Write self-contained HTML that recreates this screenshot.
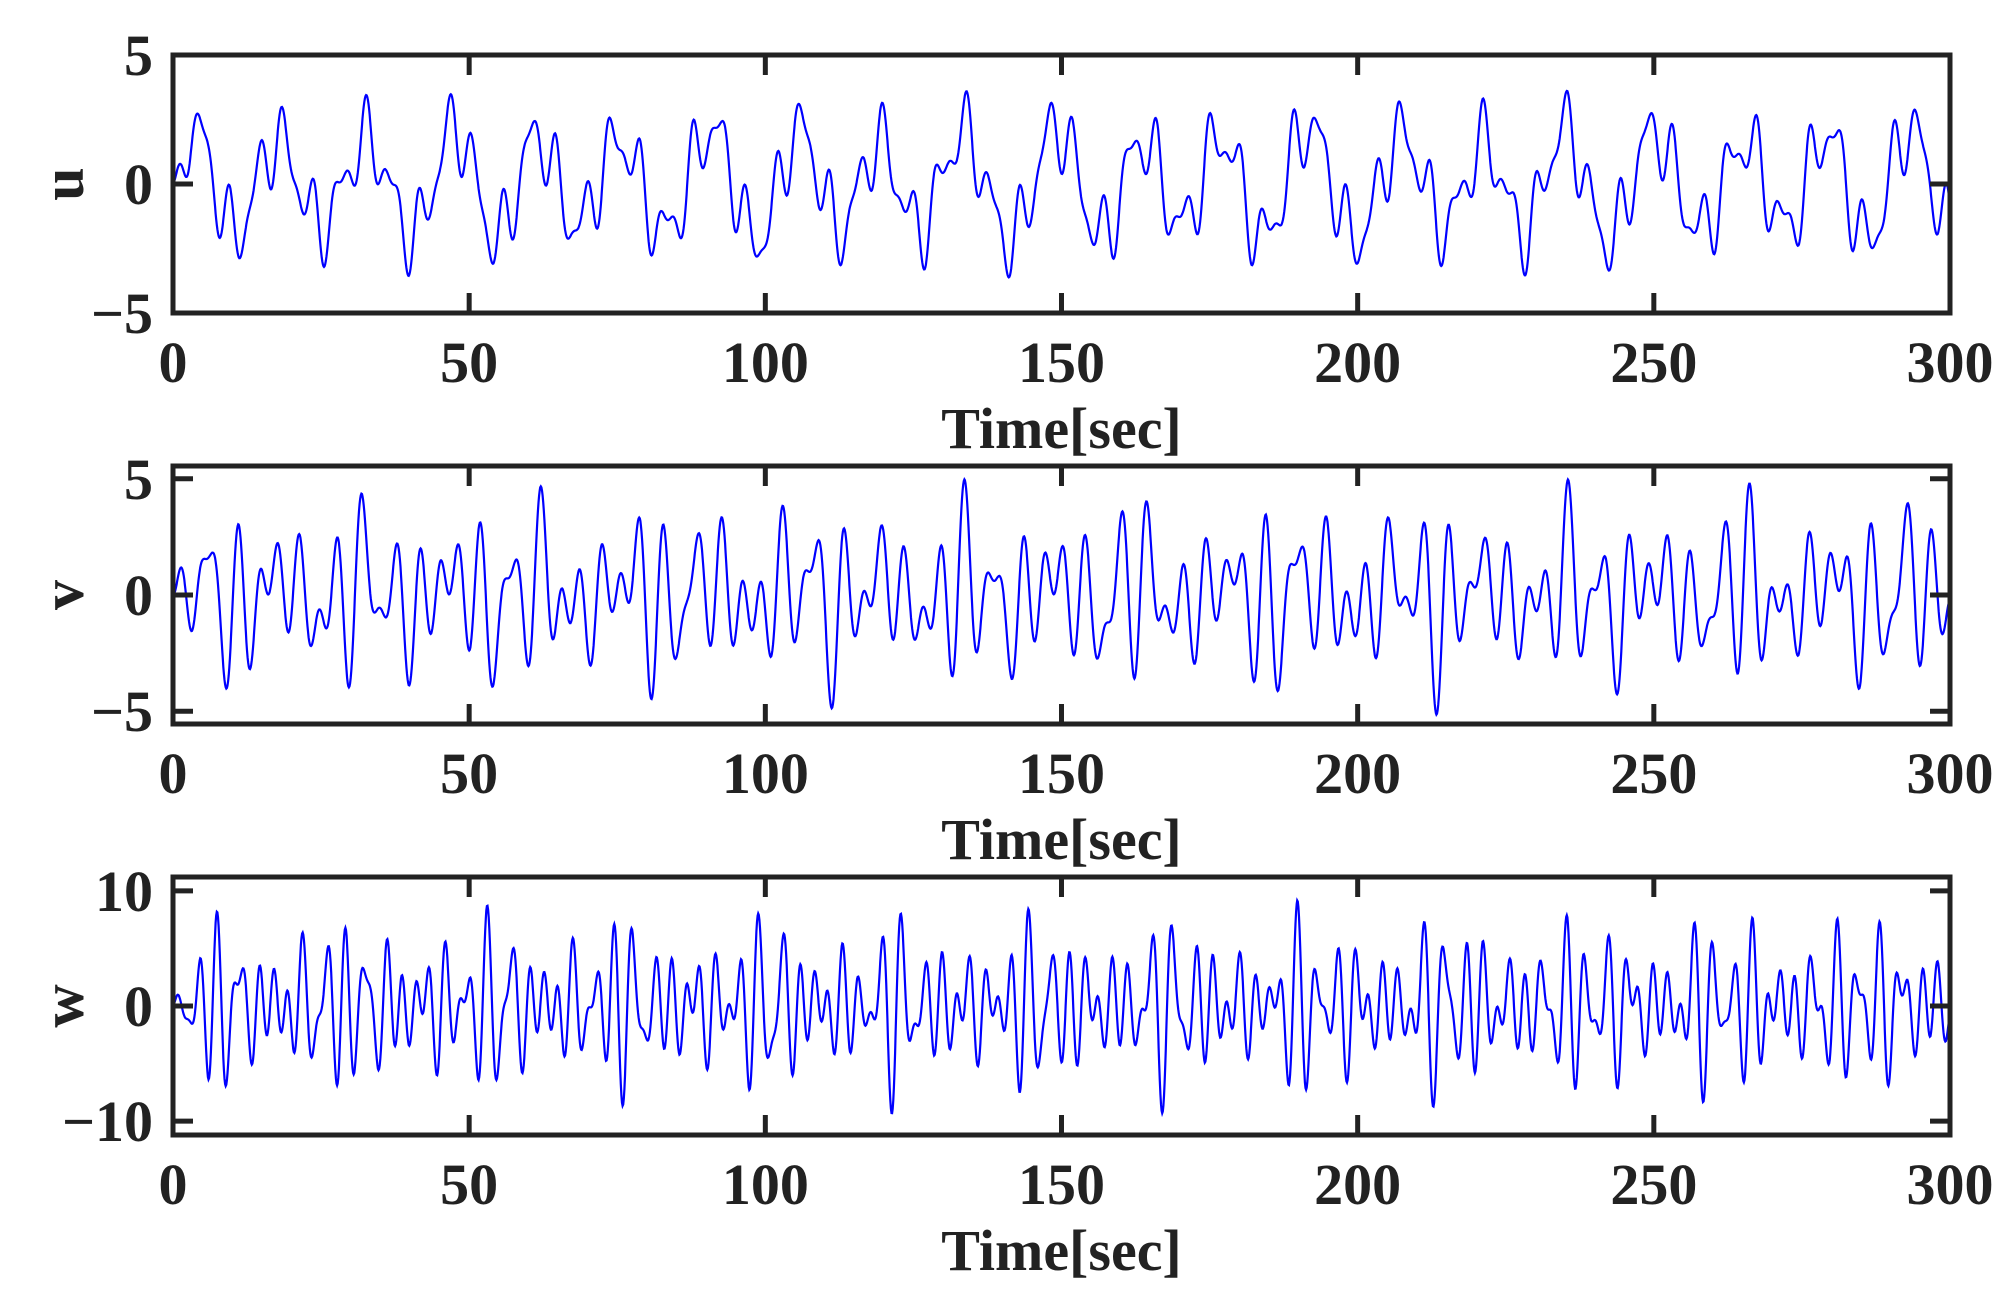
<!DOCTYPE html>
<html><head><meta charset="utf-8"><style>
html,body{margin:0;padding:0;background:#fff}
svg text{font-family:"Liberation Serif",serif;font-weight:bold;fill:#222}
</style></head><body>
<svg id="s" width="2014" height="1301" xmlns="http://www.w3.org/2000/svg"></svg>
<script>
const S=document.getElementById('s');const NS='http://www.w3.org/2000/svg';
function el(t,a,txt){const e=document.createElementNS(NS,t);for(const k in a)e.setAttribute(k,a[k]);if(txt!==undefined)e.textContent=txt;S.appendChild(e);return e;}
const L=173,R=1950,W=R-L,H=258;
const axes=[{top:55,ymax:5,ticks:[5,0,-5],lab:'u'},
{top:466,ymax:5.55,ticks:[5,0,-5],lab:'v'},
{top:877,ymax:11.2,ticks:[10,0,-10],lab:'w'}];
function sig(k,t){
 let a;
 if(k==0){a=1.9*Math.sin(2*Math.PI*t/14.5+0.3*Math.sin(t/9))+1.1*Math.sin(2*Math.PI*t/4.6+1)+0.6*Math.sin(2*Math.PI*t/2.9)+0.3*Math.sin(t/3.3);return a*(t<3?t/3:1);}
 if(k==1){a=2.8*Math.sin(2*Math.PI*t/5.1+0.5*Math.sin(t/7))*(0.65+0.35*Math.sin(t/4.1))+1.6*Math.sin(2*Math.PI*t/3.4)+0.8*Math.sin(2*Math.PI*t/14.5);return a*(t<4?t/4:1);}
 a=5.4*Math.sin(2*Math.PI*t/3.5+0.6*Math.sin(t/6))*(0.6+0.4*Math.sin(t/3.7))+2.8*Math.sin(2*Math.PI*t/2.4+1)+1.3*Math.sin(2*Math.PI*t/5.1);return a*(t<4?t/4:1);
}
axes.forEach((ax,k)=>{
 const T=ax.top,B=T+H,cy=T+H/2;
 const y=v=>cy-v/ax.ymax*(H/2);
 let d='';
 for(let i=0;i<=3000;i++){const t=i*0.1;let v=sig(k,t);v=Math.max(-ax.ymax,Math.min(ax.ymax,v));d+=(i?'L':'M')+(L+t/300*W).toFixed(1)+' '+y(v).toFixed(1);}
 el('path',{d:d,fill:'none',stroke:'#0000ff','stroke-width':2.2});
 el('rect',{x:L,y:T,width:W,height:H,fill:'none',stroke:'#222','stroke-width':5});
 for(let j=0;j<=6;j++){const x=L+j*W/6;
  el('line',{x1:x,y1:T,x2:x,y2:T+20,stroke:'#222','stroke-width':5});
  el('line',{x1:x,y1:B,x2:x,y2:B-20,stroke:'#222','stroke-width':5});
  el('text',{x:x,y:B+69,'font-size':58,'text-anchor':'middle'},String(j*50));}
 ax.ticks.forEach(v=>{const yy=y(v);
  el('line',{x1:L,y1:yy,x2:L+20,y2:yy,stroke:'#222','stroke-width':5});
  el('line',{x1:R,y1:yy,x2:R-20,y2:yy,stroke:'#222','stroke-width':5});
  el('text',{x:L-20,y:yy+20,'font-size':58,'text-anchor':'end'},v<0?'\u2212'+(-v):String(v));});
 el('text',{x:(L+R)/2,y:B+135,'font-size':58,'text-anchor':'middle'},'Time[sec]');
 el('text',{x:0,y:0,'font-size':60,'text-anchor':'middle',transform:`translate(${L-90},${cy}) rotate(-90)`},ax.lab);
});
</script>
</body></html>
